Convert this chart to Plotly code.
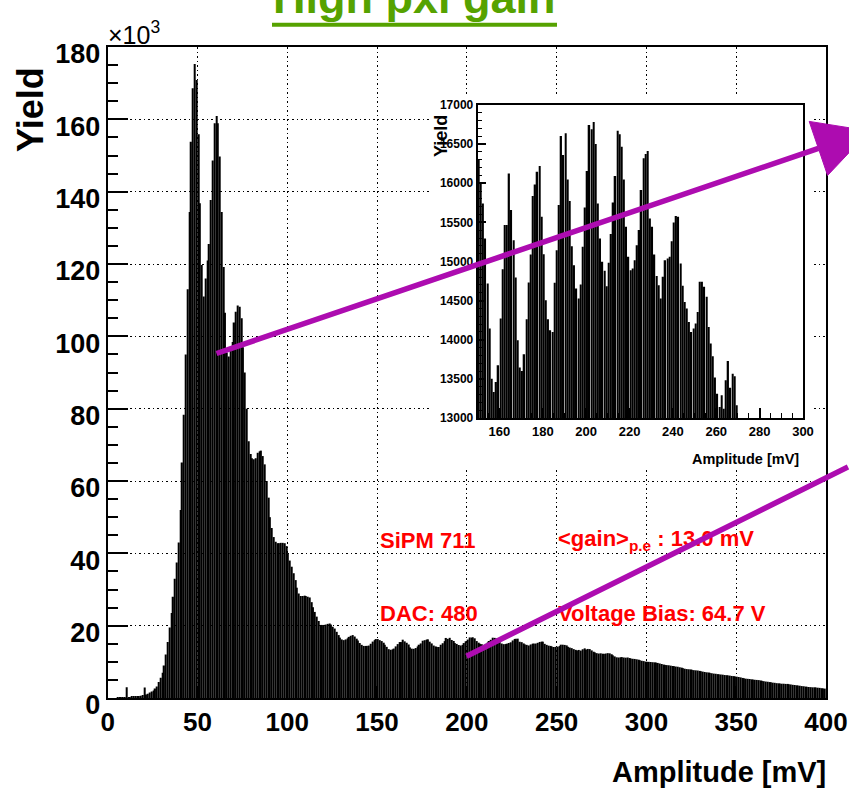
import numpy as np
import plotly.graph_objects as go

# ---------------- data (1 mV bins, counts per bin) ----------------
bin_width_mv = 1.0
counts_0_99 = [
    0, 0, 0, 0, 0, 50, 80, 100, 150, 150,
    3000, 200, 250, 300, 350, 400, 450, 500, 600, 800,
    2900, 1000, 1200, 1500, 1800, 2100, 2600, 3200, 4400, 5600,
    7000, 9000, 12000, 15500, 19500, 23500, 28000, 33000, 37500, 43000,
    52000, 65100, 78300, 95000, 113000, 134400, 153800, 168600, 175300, 170900,
    155900, 136800, 119700, 111000, 116000, 121000, 125500, 137700, 148600, 158900,
    160900, 158900, 149700, 134400, 119200, 106500, 95500, 94400, 96000, 98400,
    103800, 106800, 108500, 108200, 105000, 97000, 90000, 80000, 71000, 67500,
    66300, 66000, 66300, 67800, 68200, 68400, 66900, 64600, 60000, 55400,
    50000, 47000, 44500, 43200, 42800, 42800, 42900, 42900, 42800, 42000,
]
counts_100_149 = [
    40000, 38000, 36300, 34500, 32600, 30500, 28900, 28200, 28200, 28300,
    28200, 28000, 27800, 26500, 25100, 23800, 22500, 21300, 20200, 20200,
    20200, 20300, 20500, 20600, 20300, 19700, 19200, 18300, 17400, 16700,
    16200, 16000, 16200, 16500, 16900, 17200, 17400, 17000, 16400, 15900,
    15200, 14700, 14400, 14400, 14400, 14500, 15000, 15600, 16000, 16300,
]
counts_150_269 = [
    16300, 16000,
    15742, 15294, 14720, 14143, 13503, 13333, 13460, 13674, 14270, 14902,
    15465, 15465, 16126, 15657, 15273, 14795, 13993, 13644, 13601, 13815,
    14262, 14731, 15090, 15836, 15985, 16147, 16220, 15571, 15094, 14505,
    14262, 14121, 14100, 14727, 15145, 15721, 16603, 16360, 16638, 16049,
    15772, 15196, 14953, 14655, 14527, 14706, 15188, 15691, 16156, 16744,
    16689, 16783, 16501, 15742, 15294, 14996, 14881, 14684, 14983, 15350,
    15755, 16092, 16672, 16625, 16467, 16049, 15443, 15060, 14889, 14910,
    15017, 15209, 15401, 15913, 16318, 16373, 16411, 15550, 15443, 15090,
    14816, 14697, 14527, 14804, 15017, 15038, 15060, 15260, 15499, 15580,
    15571, 14974, 14690, 14484, 14399, 14228, 14100, 14143, 14207, 14356,
    14740, 14740, 14676, 14548, 14164, 13951, 13789, 13516, 13311, 13141,
    13290, 13119, 13482, 13729, 13388, 13567, 13533, 13162,
]
counts_270_399 = [
    12800, 12600, 12400, 12300, 12350, 12250, 12200, 12300, 12400, 12350,
    12100, 11800, 11500, 11250, 11200, 11250, 11300, 11200, 11150, 11200,
    11050, 10900, 10850, 10800, 10700, 10600, 10450, 10300, 10200, 10050,
    10000, 10000, 9950, 9900, 9850, 9800, 9700, 9550, 9400, 9250,
    9150, 9100, 9050, 8950, 8850, 8800, 8700, 8650, 8500, 8400,
    8250, 8100, 8000, 7950, 7900, 7800, 7700, 7650, 7600, 7500,
    7400, 7300, 7200, 7100, 7050, 6950, 6850, 6750, 6700, 6600,
    6550, 6500, 6450, 6350, 6300, 6250, 6200, 6100, 6050, 5950,
    5900, 5800, 5700, 5550, 5450, 5350, 5300, 5250, 5150, 5100,
    5050, 5000, 4950, 4850, 4750, 4650, 4550, 4500, 4400, 4350,
    4250, 4200, 4100, 4050, 4000, 3950, 3950, 3900, 3900, 3800,
    3750, 3650, 3600, 3500, 3450, 3400, 3300, 3250, 3150, 3100,
    3050, 3000, 2950, 2950, 2900, 2850, 2800, 2700, 2650, 2600,
]

main_x_ticks = [0, 50, 100, 150, 200, 250, 300, 350, 400]
main_y_tickvals = [0, 20000, 40000, 60000, 80000, 100000, 120000, 140000, 160000, 180000]
main_y_ticktext = ["0", "20", "40", "60", "80", "100", "120", "140", "160", "180"]
inset_x_ticks = [160, 180, 200, 220, 240, 260, 280, 300]
inset_y_ticks = [13000, 13500, 14000, 14500, 15000, 15500, 16000, 16500, 17000]
inset_range_mv = [150, 300]
inset_range_counts = [13000, 17000]

counts = np.array(counts_0_99 + counts_100_149 + counts_150_269 + counts_270_399)
amplitude_mv = np.arange(len(counts)) * bin_width_mv + bin_width_mv / 2
in_inset = (amplitude_mv >= inset_range_mv[0]) & (amplitude_mv <= inset_range_mv[1])

# ---------------- layout helpers ----------------
W, H = 849, 794
def px(x):
    return x / W
def py(y):
    return 1 - y / H

FONT = "Liberation Sans, Arial, Helvetica, sans-serif"
RED = "#ff0000"
MAG = "#ad0cb0"
GREEN = "#56a200"
DOTS = "1.5px,3px"

fig = go.Figure()
fig.add_trace(go.Bar(x=amplitude_mv, y=counts, marker=dict(color="black", line=dict(width=0)),
                     xaxis="x", yaxis="y", showlegend=False))
fig.add_trace(go.Scatter(x=[], y=[], xaxis="x2", yaxis="y2", showlegend=False))
fig.add_trace(go.Bar(x=amplitude_mv[in_inset], y=counts[in_inset],
                     marker=dict(color="black", line=dict(width=0)),
                     xaxis="x3", yaxis="y3", showlegend=False))

fig.update_layout(
    width=W, height=H,
    margin=dict(l=0, r=0, t=0, b=0, pad=0, autoexpand=False),
    paper_bgcolor="white", plot_bgcolor="white",
    bargap=0.3,
    xaxis=dict(domain=[px(107.7), px(826)], range=[0, 400], anchor="y", automargin=False,
               tickvals=main_x_ticks, ticks="inside", ticklen=12, tickwidth=2, tickcolor="black",
               showgrid=True, gridcolor="black", griddash=DOTS, gridwidth=1,
               showline=True, linecolor="black", linewidth=2, mirror=True,
               tickfont=dict(family=FONT, size=26, color="black", weight="bold"),
               zeroline=False),
    yaxis=dict(domain=[py(698), py(47)], range=[0, 180000], anchor="x", automargin=False,
               tickvals=main_y_tickvals, ticktext=main_y_ticktext,
               ticks="inside", ticklen=20, tickwidth=2, tickcolor="black",
               minor=dict(dtick=5000, ticks="inside", ticklen=10, tickwidth=2, tickcolor="black", showgrid=False),
               showgrid=True, gridcolor="black", griddash=DOTS, gridwidth=1,
               showline=True, linecolor="black", linewidth=2, mirror=True,
               tickfont=dict(family=FONT, size=27, color="black", weight="bold"),
               ticklabelshift=7, zeroline=False),
    xaxis2=dict(domain=[px(432), px(812)], range=[0, 1], anchor="y2", visible=False, automargin=False),
    yaxis2=dict(domain=[py(470), py(95)], range=[0, 1], anchor="x2", visible=False, automargin=False),
    xaxis3=dict(domain=[px(477.7), px(803)], range=inset_range_mv, anchor="y3", automargin=False,
                tickvals=inset_x_ticks, ticks="inside", ticklen=10, tickwidth=1.5, tickcolor="black",
                minor=dict(dtick=5, ticks="inside", ticklen=5, tickwidth=1, tickcolor="black"),
                showgrid=False, showline=True, linecolor="black", linewidth=2, mirror=True,
                tickfont=dict(family=FONT, size=13, color="black", weight="bold"),
                zeroline=False),
    yaxis3=dict(domain=[py(418), py(105)], range=inset_range_counts, anchor="x3", automargin=False,
                tickvals=inset_y_ticks, tickformat="d", ticks="inside", ticklen=8, tickwidth=1.5,
                tickcolor="black",
                minor=dict(dtick=100, ticks="inside", ticklen=4, tickwidth=1, tickcolor="black"),
                showgrid=False, showline=True, linecolor="black", linewidth=2, mirror=True,
                tickfont=dict(family=FONT, size=12, color="black", weight="bold"),
                zeroline=False),
)

ann = []
# title (cut by the top edge like the reference)
ann.append(dict(text="High pxl gain", x=px(414), y=py(25), xref="paper", yref="paper",
                xanchor="center", yanchor="bottom", showarrow=False,
                font=dict(family=FONT, size=45, color=GREEN, weight="bold")))
# axis titles
ann.append(dict(text="Yield", x=px(30), y=py(110), xref="paper", yref="paper", textangle=-90,
                xanchor="center", yanchor="middle", showarrow=False,
                font=dict(family=FONT, size=36, color="black", weight="bold")))
ann.append(dict(text="×10<sup>3</sup>", x=px(106), y=py(33), xref="paper", yref="paper",
                xanchor="left", yanchor="middle", showarrow=False,
                font=dict(family=FONT, size=25, color="black")))
ann.append(dict(text="Amplitude [mV]", x=px(828), y=py(772), xref="paper", yref="paper",
                xanchor="right", yanchor="middle", showarrow=False,
                font=dict(family=FONT, size=29, color="black", weight="bold")))
ann.append(dict(text="Amplitude [mV]", x=px(801), y=py(459), xref="paper", yref="paper",
                xanchor="right", yanchor="middle", showarrow=False,
                font=dict(family=FONT, size=14.5, color="black", weight="bold")))
ann.append(dict(text="Yield", x=px(441), y=py(136), xref="paper", yref="paper", textangle=-90,
                xanchor="center", yanchor="middle", showarrow=False,
                font=dict(family=FONT, size=18, color="black", weight="bold")))
# red labels
for txt, x0, y0 in [("SiPM 711", 378, 540), ("DAC: 480", 378, 613),
                    ("&lt;gain&gt;<sub>p.e</sub> : 13.0 mV", 556, 540),
                    ("Voltage Bias: 64.7 V", 556, 613)]:
    ann.append(dict(text=txt, x=px(x0), y=py(y0), xref="paper", yref="paper",
                    xanchor="left", yanchor="middle", showarrow=False,
                    font=dict(family=FONT, size=22, color=RED, weight="bold")))
# magenta arrow shafts (drawn over the red text)
tail1, back1 = (215, 354), (818.4, 148.4)
ann.append(dict(text="", x=px(back1[0]), y=py(back1[1]), xref="paper", yref="paper",
                ax=tail1[0] - back1[0], ay=tail1[1] - back1[1], axref="pixel", ayref="pixel",
                showarrow=True, arrowhead=0, arrowwidth=5.5, arrowcolor=MAG))
tail2, end2 = (465, 657), (849, 467)
ann.append(dict(text="", x=px(end2[0]), y=py(end2[1]), xref="paper", yref="paper",
                ax=tail2[0] - end2[0], ay=tail2[1] - end2[1], axref="pixel", ayref="pixel",
                showarrow=True, arrowhead=0, arrowwidth=5.5, arrowcolor=MAG))
fig.update_layout(annotations=ann)

# arrow head (partly beyond the right edge, as in the reference)
head = [(809.2, 121.4), (869.5, 131.0), (827.6, 175.4)]
head_path = "M " + " L ".join(f"{px(a):.5f},{py(b):.5f}" for a, b in head) + " Z"
fig.add_shape(type="path", xref="paper", yref="paper", path=head_path,
              fillcolor=MAG, line=dict(color=MAG, width=1), layer="above")

fig.add_shape(type="line", xref="paper", yref="paper", x0=px(272), x1=px(557), y0=py(24.7), y1=py(24.7),
              line=dict(color=GREEN, width=4))

fig.write_html("out.html")
